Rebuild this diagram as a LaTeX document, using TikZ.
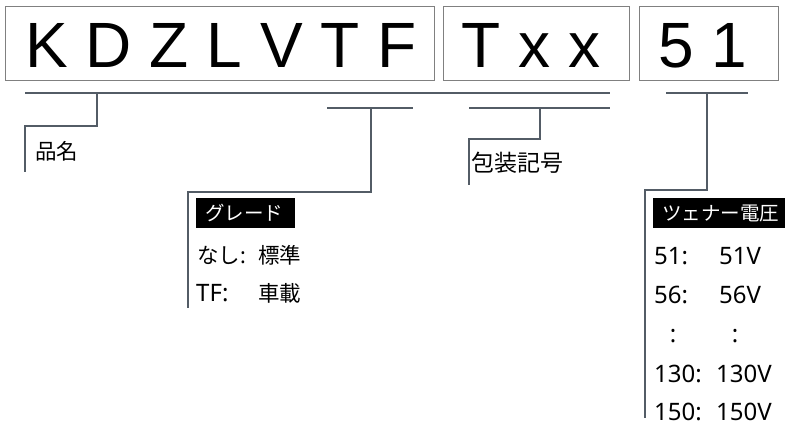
\documentclass[tikz,border=0pt]{standalone}
\usepackage{fontspec}
\setmainfont{Liberation Sans}
\newfontfamily\jp{Noto Sans CJK JP}
\newfontfamily\lat{Noto Sans}
\definecolor{lc}{RGB}{83,92,102}
\definecolor{bc}{RGB}{128,128,128}
\begin{document}
\begin{tikzpicture}[x=1pt,y=-1pt,
  ln/.style={draw=lc, line width=2pt},
  codebox/.style={draw=bc, line width=1pt, inner sep=0pt},
  big/.style={font=\fontsize{64}{64}\selectfont, anchor=base, inner sep=0pt},
  lbl/.style={font=\jp\fontsize{21.5}{21.5}\selectfont, anchor=west, inner sep=0pt},
  num/.style={font=\lat\fontsize{24}{24}\selectfont, anchor=west, inner sep=0pt},
  hdr/.style={fill=black, text=white, font=\jp\fontsize{19.5}{19.5}\selectfont, anchor=north west,
              inner xsep=9pt, inner ysep=0pt, minimum height=30pt, align=left},
]
\useasboundingbox (0,0) rectangle (785,427);
% code boxes
\node[codebox, minimum width=429pt, minimum height=74pt] (b1) at (219.5,44) {};
\node[codebox, minimum width=186pt, minimum height=74pt] (b2) at (536,44) {};
\node[codebox, minimum width=139pt, minimum height=74pt] (b3) at (708.5,44) {};
\node[big] (t1) at (221,68) {K D Z L V T F};
\node[big] (t2) at (531,68) {T x x};
\node[big] (t3) at (703,68) {5 1};
% bracket coordinates
\coordinate (a1) at (25,93);   \coordinate (a2) at (610,93);
\coordinate (a3) at (97,93);   \coordinate (a4) at (97,126);
\coordinate (a5) at (25,126);  \coordinate (a6) at (25,172);
\coordinate (g1) at (327,108); \coordinate (g2) at (413,108);
\coordinate (g3) at (371,108); \coordinate (g4) at (371,192);
\coordinate (g5) at (188,192); \coordinate (g6) at (188,308);
\coordinate (p1) at (469,108); \coordinate (p2) at (610,108);
\coordinate (p3) at (540,108); \coordinate (p4) at (540,139);
\coordinate (p5) at (469,139); \coordinate (p6) at (469,185);
\coordinate (z1) at (666,93);  \coordinate (z2) at (748,93);
\coordinate (z3) at (707,93);  \coordinate (z4) at (707,190);
\coordinate (z5) at (645,190); \coordinate (z6) at (645,418);
% brackets
\draw[ln] (a1) -- (a2);
\draw[ln] (a3) -- (a4) -- (a5) -- (a6);
\draw[ln] (g1) -- (g2);
\draw[ln] (g3) -- (g4) -- (g5) -- (g6);
\draw[ln] (p1) -- (p2);
\draw[ln] (p3) -- (p4) -- (p5) -- (p6);
\draw[ln] (z1) -- (z2);
\draw[ln] (z3) -- (z4) -- (z5) -- (z6);
% labels
\node[lbl] (l1) at (35,151) {品名};
\node[lbl, font=\jp\fontsize{23}{23}\selectfont] (l2) at (471,163) {包装記号};
% grade
\node[hdr, text width=81pt] (gh) at (196,198) {グレード};
\node[lbl] (g1a) at (197,255) {なし{\lat:}};
\node[lbl] (g1b) at (258,255) {標準};
\node[num] (g2a) at (196,293) {TF:};
\node[lbl] (g2b) at (258,293) {車載};
% zener
\node[hdr, text width=114pt] (zh) at (653,198) {ツェナー電圧};
\node[num] (r1a) at (654,256) {51:};
\node[num] (r1b) at (719,256) {51V};
\node[num] (r2a) at (654,295) {56:};
\node[num] (r2b) at (719,295) {56V};
\node[num, anchor=center] (r3a) at (673,336) {:};
\node[num, anchor=center] (r3b) at (735,336) {:};
\node[num] (r4a) at (654,374) {130:};
\node[num] (r4b) at (716,374) {130V};
\node[num] (r5a) at (654,412) {150:};
\node[num] (r5b) at (716,412) {150V};
\end{tikzpicture}
\end{document}
